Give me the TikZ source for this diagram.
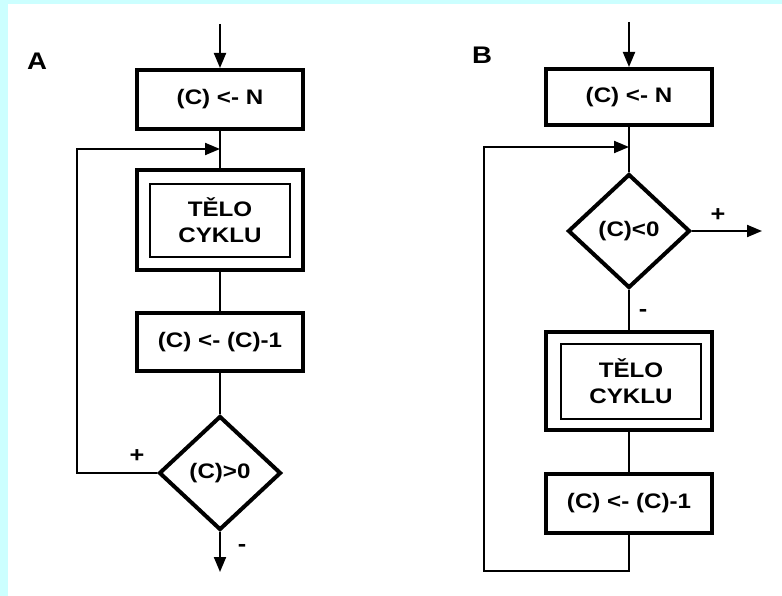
\documentclass[tikz,border=0pt]{standalone}
\usepackage{fontspec}
\setmainfont{Liberation Sans}[FakeStretch=1.15]
\usetikzlibrary{shapes.geometric,arrows.meta}
\definecolor{bgcyan}{RGB}{204,255,255}
\begin{document}
\begin{tikzpicture}[x=1pt,y=-1pt,
  txt/.style={font=\fontsize{21}{26}\selectfont\bfseries},
  box/.style={draw,line width=4pt,minimum width=166pt,inner sep=0pt,txt},
  inbox/.style={draw,line width=1.6pt,minimum width=140pt,minimum height=73pt,inner sep=0pt,align=center,txt},
  dia/.style={draw,diamond,line width=4pt,minimum width=122pt,minimum height=114pt,inner sep=0pt,txt},
  conn/.style={line width=2pt},
  arr/.style={conn,-{Triangle[length=15pt,width=12pt]}},
  lbl/.style={inner sep=0pt,font=\fontsize{22}{22}\selectfont\bfseries},
  big/.style={inner sep=0pt,font=\fontsize{24}{26}\selectfont\bfseries}
]
\fill[bgcyan] (0,0) rectangle (782,596);
\fill[white] (8,4) rectangle (782,596);
\useasboundingbox (0,0) rectangle (782,596);

% ---------- A ----------
\node[big] (labA) at (37,61) {A};
\coordinate (topA) at (220,24);
\node[box,minimum height=59pt] (a1) at (220,99.5) {(C) <- N};
\node[box,minimum height=100pt] (a2) at (220,220) {};
\node[inbox] (a2i) at (220,220.5) {TĚLO\\CYKLU};
\node[box,minimum height=58pt] (a3) at (220,342) {(C) <- (C)-1};
\node[dia] (a4) at (220,473) {(C)>0};
\coordinate (loopA) at (220,149);
\coordinate (cornA1) at (77,473);
\coordinate (cornA2) at (77,149);
\coordinate (endA) at (220,572);

\draw[arr] (topA) -- (a1.north);
\draw[conn] (a1.south) -- (a2.north);
\draw[conn] (a2.south) -- (a3.north);
\draw[conn] (a3.south) -- (a4.north);
\draw[arr] (a4.west) -- (cornA1) -- (cornA2) -- (loopA);
\draw[arr] (a4.south) -- (endA);
\node[lbl] (plusA) at (137,456) {+};
\node[lbl] (minusA) at (242,548) {-};

% ---------- B ----------
\node[big] (labB) at (482,55) {B};
\coordinate (topB) at (629,22);
\node[box,minimum height=56pt] (b1) at (629,97) {(C) <- N};
\node[dia] (b2) at (629,231) {(C)<0};
\node[box,minimum height=98pt] (b3) at (629,381) {};
\node[inbox,minimum height=75pt] (b3i) at (631,381.5) {TĚLO\\CYKLU};
\node[box,minimum height=59pt] (b4) at (629,503.5) {(C) <- (C)-1};
\coordinate (loopB) at (629,147);
\coordinate (outB) at (762,231);
\coordinate (cornB1) at (629,571);
\coordinate (cornB2) at (484,571);
\coordinate (cornB3) at (484,147);

\draw[arr] (topB) -- (b1.north);
\draw[conn] (b1.south) -- (b2.north);
\draw[arr] (b2.east) -- (outB);
\draw[conn] (b2.south) -- (b3.north);
\draw[conn] (b3.south) -- (b4.north);
\draw[arr] (b4.south) -- (cornB1) -- (cornB2) -- (cornB3) -- (loopB);
\node[lbl] (plusB) at (718,215) {+};
\node[lbl] (minusB) at (643,313) {-};
\end{tikzpicture}
\end{document}
